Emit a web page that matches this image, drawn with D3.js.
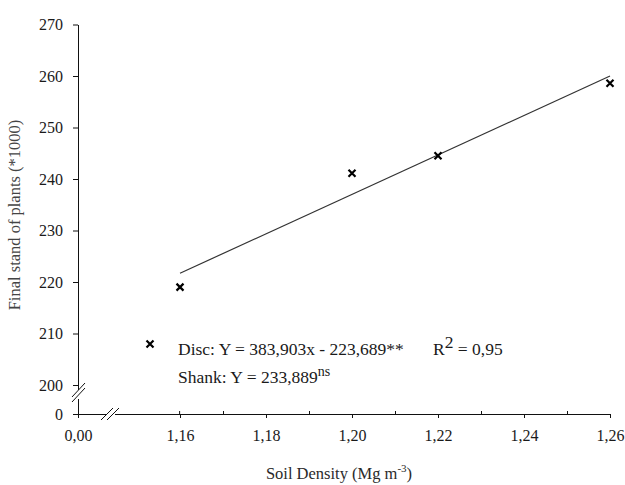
<!DOCTYPE html>
<html><head><meta charset="utf-8">
<script src="https://cdn.jsdelivr.net/npm/d3@7"></script>
<style>
body{margin:0;background:#fff;}
text{font-family:"Liberation Serif","Times New Roman",serif;}
</style></head>
<body><svg id="c" width="625" height="485"></svg>
<script>
// ---- data ----
const density = [1.16, 1.20, 1.22, 1.26];
const discStand = [219.0, 241.1, 244.5, 258.6];
const fitDensity = [1.16, 1.26];
const fitStand = [221.7, 260.0];
const xMajorTicks = [0, 1.16, 1.18, 1.20, 1.22, 1.24, 1.26];
const xMinorTicks = [1.15, 1.17, 1.19, 1.21, 1.23, 1.25];
const yTicks = [0, 200, 210, 220, 230, 240, 250, 260, 270];
const discLabel = "Disc: Y = 383,903x - 223,689**";
const r2Label = "0,95";
const shankLabel = "233,889";

const svg = d3.select("#c");
const fs = 16, efs = 17.5;
// broken axes: piecewise linear scales
const x = d3.scaleLinear().domain([0, 1.16, 1.26]).range([78, 180, 610]);
const y = d3.scaleLinear().domain([0, 200, 270]).range([414, 385, 24.5]);
const fmt = d => d === 0 ? "0,00" : d3.format(".2f")(d).replace(".", ",");

// y axis
const gy = svg.append("g").attr("transform", "translate(78,0)")
  .call(d3.axisLeft(y).tickValues(yTicks).tickSize(5).tickSizeOuter(0).tickFormat(d => d));
gy.selectAll(".tick text").attr("x", -15).style("font-size", fs + "px").attr("font-family", null).attr("fill", "#1a1a1a");
// x axis major (ticks down)
const gx = svg.append("g").attr("transform", "translate(0,414)")
  .call(d3.axisBottom(x).tickValues(xMajorTicks).tickSize(4).tickSizeOuter(0).tickFormat(fmt));
gx.selectAll(".tick text").attr("y", 16).style("font-size", fs + "px").attr("font-family", null).attr("fill", "#1a1a1a");
// x axis minor (ticks up)
const gxm = svg.append("g").attr("transform", "translate(0,414)")
  .call(d3.axisTop(x).tickValues(xMinorTicks).tickSize(3).tickFormat(""));
gxm.select(".domain").remove();
svg.selectAll(".domain, .tick line").attr("stroke", "#111");

// axis breaks
svg.append("rect").attr("x", 74).attr("y", y(0) - 24).attr("width", 8).attr("height", 9).attr("fill", "#fff");
[0, 5].forEach(o => svg.append("line").attr("x1", 72).attr("y1", y(0) - 12 - o).attr("x2", 85).attr("y2", y(0) - 26 - o)
  .attr("stroke", "#111"));
svg.append("rect").attr("x", 106).attr("y", 411).attr("width", 9).attr("height", 6).attr("fill", "#fff");
[0, 6].forEach(o => svg.append("line").attr("x1", 101 + o).attr("y1", 420).attr("x2", 113 + o).attr("y2", 408)
  .attr("stroke", "#111"));

// fit line
svg.append("path").datum(fitDensity.map((d, i) => [d, fitStand[i]]))
  .attr("d", d3.line().x(d => x(d[0])).y(d => y(d[1])))
  .attr("fill", "none").attr("stroke", "#333").attr("stroke-width", 1.2);

// points
const cross = "M-3.5,-3.5L3.5,3.5M-3.5,3.5L3.5,-3.5";
svg.selectAll(".pt").data(density).join("path").attr("class", "pt")
  .attr("transform", (d, i) => `translate(${x(d)},${y(discStand[i])})`)
  .attr("d", cross).attr("stroke", "#000").attr("stroke-width", 2.2).attr("fill", "none");

// legend / equations
svg.append("path").attr("transform", "translate(150,344)").attr("d", cross)
  .attr("stroke", "#000").attr("stroke-width", 2.2);
svg.append("text").attr("x", 178).attr("y", 355).style("font-size", efs + "px").attr("fill", "#1a1a1a").text(discLabel);
const r2 = svg.append("text").attr("x", 433).attr("y", 355).style("font-size", efs + "px").attr("fill", "#1a1a1a");
r2.append("tspan").text("R");
r2.append("tspan").attr("dy", -7).text("2");
r2.append("tspan").attr("dy", 7).text(" = " + r2Label);
const sh = svg.append("text").attr("x", 178).attr("y", 383).style("font-size", efs + "px").attr("fill", "#1a1a1a");
sh.append("tspan").text("Shank: Y = " + shankLabel);
sh.append("tspan").attr("dy", -7).style("font-size", "14px").text("ns");

// axis titles
const xt = svg.append("text").attr("x", 339).attr("y", 479).attr("text-anchor", "middle")
  .style("font-size", "16.5px").attr("fill", "#2a2a2a");
xt.append("tspan").text("Soil Density (Mg m");
xt.append("tspan").attr("dy", -7).style("font-size", "11px").text("-3");
xt.append("tspan").attr("dy", 7).text(")");
svg.append("text").attr("transform", "translate(20,215) rotate(-90)").attr("text-anchor", "middle")
  .style("font-size", "16.5px").attr("fill", "#444").text("Final stand of plants (*1000)");
</script></body></html>
